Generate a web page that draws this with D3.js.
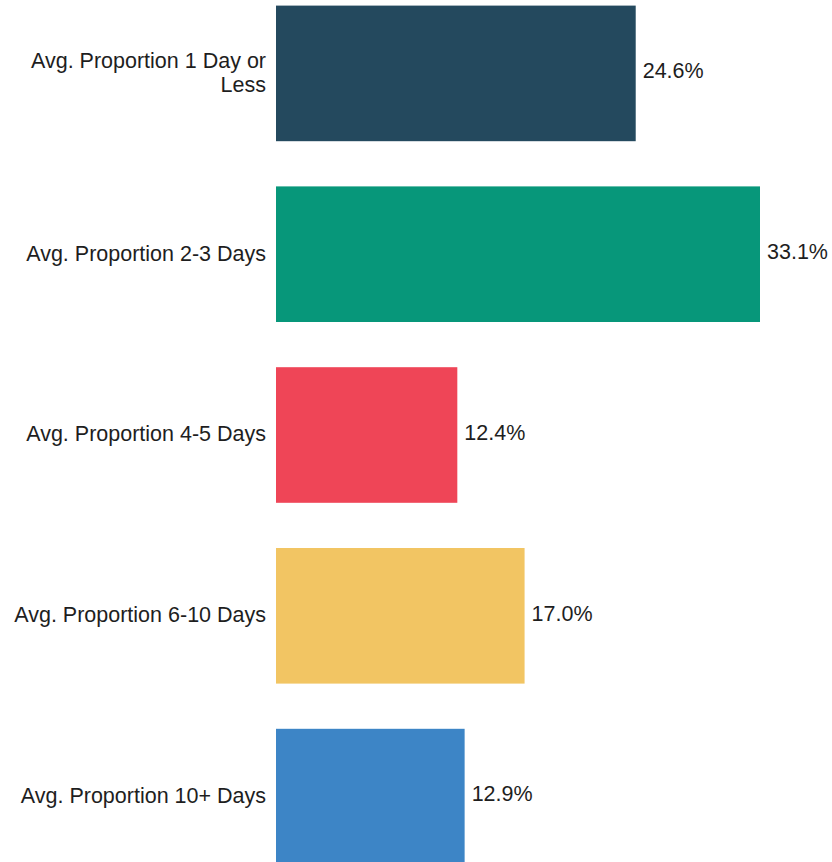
<!DOCTYPE html>
<html>
<head>
<meta charset="utf-8">
<script src="https://cdn.jsdelivr.net/npm/d3@7"></script>
<style>
body{margin:0;background:#fff;}
svg{display:block;}
text{font-family:"Liberation Sans",Arial,sans-serif;fill:#1e1e1e;}
</style>
</head>
<body>
<svg id="chart" width="832" height="862"></svg>
<script>
// categories / values
let categories=["Avg. Proportion 1 Day or Less","Avg. Proportion 2-3 Days","Avg. Proportion 4-5 Days","Avg. Proportion 6-10 Days","Avg. Proportion 10+ Days"]
let labelLines=[["Avg. Proportion 1 Day or","Less"],["Avg. Proportion 2-3 Days"],["Avg. Proportion 4-5 Days"],["Avg. Proportion 6-10 Days"],["Avg. Proportion 10+ Days"]]
let values=[24.6,33.1,12.4,17.0,12.9]
let colors=["#24495e","#07977a","#ef4557","#f2c563","#3d85c6"]

let svg=d3.select("#chart")
const left=276
const fs="21.5px"

const x=d3.scaleLinear()
        .domain([0,33.1])
        .range([left,760])

const y=d3.scaleBand()
        .domain(categories)
        .range([-17,887])
        .paddingInner(0.25)
        .paddingOuter(0.125)

svg.selectAll("rect")
   .data(values)
   .enter()
   .append("rect")
   .attr("x",x(0))
   .attr("y",(d,i)=>y(categories[i]))
   .attr("width",d=>x(d)-x(0))
   .attr("height",y.bandwidth())
   .attr("fill",(d,i)=>colors[i])

// value labels
svg.selectAll(".val")
   .data(values)
   .enter()
   .append("text")
   .attr("class","val")
   .attr("x",d=>x(d)+7)
   .attr("y",(d,i)=>y(categories[i])+y.bandwidth()/2)
   .attr("dy","0.22em")
   .style("font-size",fs)
   .text(d=>d.toFixed(1)+"%")

// category labels (first one wraps)
let lab=svg.selectAll(".cat")
   .data(labelLines)
   .enter()
   .append("text")
   .attr("class","cat")
   .attr("text-anchor","end")
   .style("font-size",fs)
   .attr("y",(d,i)=>y(categories[i])+y.bandwidth()/2)

lab.selectAll("tspan")
   .data(d=>d.map((t,j)=>({t:t,j:j,n:d.length})))
   .enter()
   .append("tspan")
   .attr("x",266)
   .attr("dy",d=>d.j==0?(0.3-(d.n-1)*0.55)+"em":"1.1em")
   .text(d=>d.t)
</script>
</body>
</html>
